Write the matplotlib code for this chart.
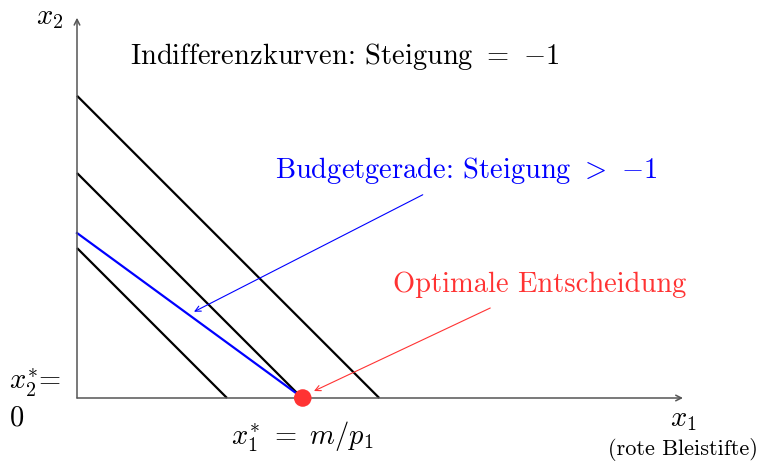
import numpy as np
import matplotlib.pyplot as plt

plt.rcParams['mathtext.fontset'] = 'cm'
plt.rcParams['font.family'] = ['cmr10', 'DejaVu Serif']
plt.rcParams['axes.unicode_minus'] = False

# Indifferenzkurven (Steigung -1): Achsenabschnitte
indiff_levels = [2.0, 3.0, 4.03]
# Budgetgerade: Achsenabschnitte
budget_x = 3.01
budget_y = 2.2
# optimale Entscheidung
opt_x1, opt_x2 = 3.01, 0.0

x_max, y_max = 8.08, 5.07

fig = plt.figure(figsize=(7.6, 4.65), dpi=100)
ax = fig.add_axes([0, 0, 1, 1])
ax.set_xlim(-77 / 75, (760 - 77) / 75)
ax.set_ylim(-67 / 75, 398 / 75)
ax.axis('off')

# Achsen
axis_col = '#555555'
ax.annotate("", xy=(x_max, 0), xytext=(0, 0),
            arrowprops=dict(arrowstyle="->", color=axis_col, lw=1.1, shrinkA=0, shrinkB=0))
ax.annotate("", xy=(0, y_max), xytext=(0, 0),
            arrowprops=dict(arrowstyle="->", color=axis_col, lw=1.1, shrinkA=0, shrinkB=0))

# Indifferenzkurven
for c in indiff_levels:
    ax.plot([0, c], [c, 0], color='black', lw=1.6, solid_capstyle='butt')

# Budgetgerade
ax.plot([0, budget_x], [budget_y, 0], color='blue', lw=1.6)

# Optimum
ax.scatter([opt_x1], [opt_x2], s=160, color='#ff3333', zorder=5, edgecolors='none')

fs = 20.5
ax.text(3.57, 4.55, r"Indifferenzkurven: Steigung $=$ $-1$", fontsize=fs,
        ha='center', va='center')
ax.text(5.19, 3.04, r"Budgetgerade: Steigung $>$ $-1$", fontsize=fs,
        ha='center', va='center', color='blue')
ax.text(6.17, 1.51, "Optimale Entscheidung", fontsize=fs,
        ha='center', va='center', color='#ff3333')

ax.annotate("", xy=(1.56, 1.15), xytext=(4.61, 2.71),
            arrowprops=dict(arrowstyle="->", color='blue', lw=0.8, shrinkA=0, shrinkB=0))
ax.annotate("", xy=(3.16, 0.093), xytext=(5.51, 1.2),
            arrowprops=dict(arrowstyle="->", color='#ff3333', lw=0.8, shrinkA=0, shrinkB=0))

ax.text(-0.36, 5.07, r"$x_2$", fontsize=fs, ha='center', va='center')
ax.text(8.08, -0.29, r"$x_1$", fontsize=fs, ha='center', va='center')
ax.text(8.08, -0.69, "(rote Bleistifte)", fontsize=16, ha='center', va='center')
ax.text(3.01, -0.52, r"$x_1^{*}\ =\ m/p_1$", fontsize=fs, ha='center', va='center')
ax.text(-0.56, 0.2, r"$x_2^{*}$=", fontsize=fs, ha='center', va='center')
ax.text(-0.8, -0.27, "0", fontsize=fs, ha='center', va='center')

fig.savefig("out.png", dpi=100)
